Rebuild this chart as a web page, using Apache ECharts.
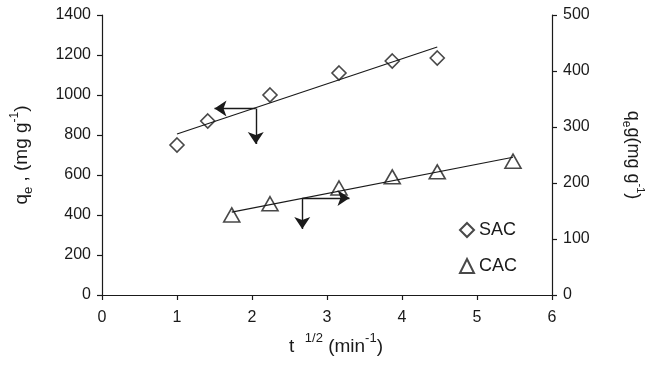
<!DOCTYPE html>
<html>
<head>
<meta charset="utf-8">
<script src="https://cdn.jsdelivr.net/npm/echarts@6/dist/echarts.min.js"></script>
<style>
  html, body { margin: 0; padding: 0; background: #fff; }
  #chart { width: 655px; height: 365px; }
</style>
</head>
<body>
<div id="chart"></div>
<script>
// t^1/2 values and uptake for each carbon
const tSAC = [1, 1.41, 2.24, 3.16, 3.87, 4.47];
const qSAC = [750, 870, 1000, 1110, 1170, 1185];
const tCAC = [1.73, 2.24, 3.16, 3.87, 4.47, 5.48];
const qCAC = [143, 163, 191, 211, 220, 239];

// fitted intra-particle diffusion lines (end points)
const fitSAC = [[1, 805], [4.47, 1240]];
const fitCAC = [[1.73, 148], [5.48, 246]];

// arrows pointing at the axis each series belongs to
const arrowsSAC = [[[2.05, 932], [1.5, 932]], [[2.05, 932], [2.05, 755]]];
const arrowsCAC = [[[2.67, 173], [3.3, 173]], [[2.67, 173], [2.67, 118]]];

const ink = "#1a1a1a";
const font = "Liberation Sans";

const chart = echarts.init(document.getElementById("chart"));

const axisCommon = {
  axisLine: { show: true, onZero: false, lineStyle: { color: ink, width: 1.2 } },
  axisTick: { show: true, inside: false, length: 5, lineStyle: { color: ink, width: 1.2 } },
  axisLabel: {
    color: ink,
    fontFamily: font,
    fontSize: 16,
    formatter: v => String(v)
  },
  splitLine: { show: false }
};

chart.setOption({
  backgroundColor: "#fff",
  animation: false,
  grid: { left: 102, right: 103, top: 15, bottom: 70, outerBoundsMode: "none" },
  legend: {
    orient: "vertical",
    left: 454,
    top: 216,
    itemWidth: 14,
    itemHeight: 14,
    itemGap: 18,
    textStyle: { color: ink, fontFamily: font, fontSize: 18 },
    data: ["SAC", "CAC"]
  },
  xAxis: {
    type: "value",
    min: 0,
    max: 6,
    interval: 1,
    ...axisCommon,
    axisLabel: { ...axisCommon.axisLabel, margin: 15 },
    name: "{a|t  }{sup|1/2}{a| (min}{sup|-1}{a|)}",
    nameLocation: "middle",
    nameGap: 37,
    nameTextStyle: {
      padding: [0, 0, 0, 18],
      rich: {
        a: { fontFamily: font, fontSize: 19, color: ink, lineHeight: 24, verticalAlign: "bottom" },
        sup: { fontFamily: font, fontSize: 13, color: ink, lineHeight: 24, verticalAlign: "top" }
      }
    }
  },
  yAxis: [
    {
      type: "value",
      min: 0,
      max: 1400,
      interval: 200,
      position: "left",
      ...axisCommon,
      axisLabel: { ...axisCommon.axisLabel, margin: 11 },
      name: "{a|q}{sub|e}{a| , (mg g}{sup|-1}{a|)}",
      nameLocation: "middle",
      nameRotate: 90,
      nameGap: 67,
      nameTextStyle: {
        rich: {
          a: { fontFamily: font, fontSize: 19, color: ink, lineHeight: 26, verticalAlign: "middle" },
          sub: { fontFamily: font, fontSize: 13, color: ink, lineHeight: 26, verticalAlign: "bottom" },
          sup: { fontFamily: font, fontSize: 12, color: ink, lineHeight: 26, verticalAlign: "top" }
        }
      }
    },
    {
      type: "value",
      min: 0,
      max: 500,
      interval: 100,
      position: "right",
      ...axisCommon,
      axisLabel: { ...axisCommon.axisLabel, margin: 11 },
      name: "{a|q}{sub|e}{a|g(mg g}{sup|-1}{a|)}",
      nameLocation: "middle",
      nameRotate: -90,
      nameGap: 68,
      nameTextStyle: {
        rich: {
          a: { fontFamily: font, fontSize: 18, color: ink, lineHeight: 26, verticalAlign: "middle" },
          sub: { fontFamily: font, fontSize: 12, color: ink, lineHeight: 26, verticalAlign: "bottom" },
          sup: { fontFamily: font, fontSize: 11, color: ink, lineHeight: 26, verticalAlign: "top" }
        }
      }
    }
  ],
  series: [
    {
      name: "SAC fit",
      type: "line",
      yAxisIndex: 0,
      symbol: "none",
      lineStyle: { color: ink, width: 1.2 },
      data: fitSAC
    },
    {
      name: "CAC fit",
      type: "line",
      yAxisIndex: 1,
      symbol: "none",
      lineStyle: { color: ink, width: 1.2 },
      data: fitCAC
    },
    {
      name: "SAC",
      type: "scatter",
      yAxisIndex: 0,
      symbol: "diamond",
      symbolSize: 14,
      itemStyle: { color: "rgba(0,0,0,0)", borderColor: ink, borderWidth: 1.6 },
      data: tSAC.map((t, i) => [t, qSAC[i]]),
      z: 3
    },
    {
      name: "CAC",
      type: "scatter",
      yAxisIndex: 1,
      symbol: "triangle",
      symbolSize: [16, 14],
      itemStyle: { color: "rgba(0,0,0,0)", borderColor: ink, borderWidth: 1.6 },
      data: tCAC.map((t, i) => [t, qCAC[i]]),
      z: 3
    },
    {
      name: "SAC arrows",
      type: "lines",
      coordinateSystem: "cartesian2d",
      yAxisIndex: 0,
      symbol: ["none", "arrow"],
      symbolSize: 12,
      lineStyle: { color: ink, width: 1.4, opacity: 1 },
      data: arrowsSAC.map(c => ({ coords: c }))
    },
    {
      name: "CAC arrows",
      type: "lines",
      coordinateSystem: "cartesian2d",
      yAxisIndex: 1,
      symbol: ["none", "arrow"],
      symbolSize: 12,
      lineStyle: { color: ink, width: 1.4, opacity: 1 },
      data: arrowsCAC.map(c => ({ coords: c }))
    }
  ]
});
</script>
</body>
</html>
